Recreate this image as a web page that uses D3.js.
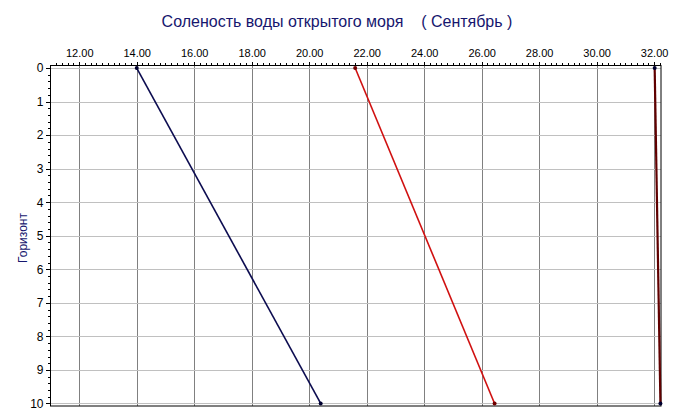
<!DOCTYPE html>
<html><head><meta charset="utf-8">
<script src="https://cdn.jsdelivr.net/npm/d3@7"></script>
<style>body{margin:0;background:#fff}svg{display:block}</style>
</head><body>
<svg id="c" width="675" height="419"></svg>
<script>
const title = "Соленость воды открытого моря    ( Сентябрь )";
const yLabel = "Горизонт";
const depths = [0, 10];
const seriesBlue = [14.0, 20.4];
const seriesRed = [21.6, 26.45];
const seriesMaroon = [32.02, 32.22];
const xTicks = [12, 14, 16, 18, 20, 22, 24, 26, 28, 30, 32];
const yTicks = [0,1,2,3,4,5,6,7,8,9,10];

const svg = d3.select("#c");
const L = 50.5, R = 661, T = 65.5, B = 406;
const x = d3.scaleLinear().domain([11.0, 32.24]).range([L, R]);
const y = d3.scaleLinear().domain([-0.075, 10.075]).range([T, B]);

svg.append("text").attr("x", 337).attr("y", 27).attr("text-anchor", "middle")
  .attr("font-family", "Liberation Sans, Arial").attr("font-size", 16).attr("fill", "#16166e")
  .attr("xml:space", "preserve").style("white-space", "pre").text(title);

const g = svg.append("g");
// vertical grid
g.selectAll(".vg").data(xTicks).join("line")
  .attr("x1", d => Math.round(x(d)) + 0.5).attr("x2", d => Math.round(x(d)) + 0.5)
  .attr("y1", T).attr("y2", B).attr("stroke", "#808080").attr("stroke-width", 1);
// horizontal grid
g.selectAll(".hg").data(yTicks).join("line")
  .attr("y1", d => Math.round(y(d)) + 0.5).attr("y2", d => Math.round(y(d)) + 0.5)
  .attr("x1", L).attr("x2", R).attr("stroke", "#c0c0c0").attr("stroke-width", 1);

// frame
svg.append("rect").attr("x", L).attr("y", T).attr("width", R - L).attr("height", B - T)
  .attr("fill", "none").attr("stroke", "#000").attr("stroke-width", 1);

// top axis
const xMinor = d3.range(11.2, 32.21, 0.2).map(v => +v.toFixed(2));
const xAxis = d3.axisTop(x).tickValues(xMinor).tickFormat("").tickSize(3).tickSizeOuter(0);
const gx = svg.append("g").attr("transform", `translate(0,${T})`).call(xAxis);
gx.select(".domain").remove();
gx.selectAll("line").attr("stroke", "#000").attr("shape-rendering", "crispEdges");
const gxl = svg.append("g").attr("transform", `translate(0,${T})`)
  .call(d3.axisTop(x).tickValues(xTicks).tickFormat(d3.format(".2f")).tickSize(4).tickPadding(5));
gxl.select(".domain").remove();
gxl.selectAll("line").attr("stroke", "#000").attr("shape-rendering", "crispEdges");
gxl.selectAll("text").attr("font-family", "Liberation Sans, Arial").attr("font-size", 11).attr("fill", "#000");

// left axis
const yMinor = d3.range(0, 10.01, 0.2).map(v => +v.toFixed(2));
const gy = svg.append("g").attr("transform", `translate(${L},0)`)
  .call(d3.axisLeft(y).tickValues(yMinor).tickFormat("").tickSize(3).tickSizeOuter(0));
gy.select(".domain").remove();
gy.selectAll("line").attr("stroke", "#000").attr("shape-rendering", "crispEdges");
const gyl = svg.append("g").attr("transform", `translate(${L},0)`)
  .call(d3.axisLeft(y).tickValues(yTicks).tickFormat(d3.format("d")).tickSize(5).tickPadding(2));
gyl.select(".domain").remove();
gyl.selectAll("line").attr("stroke", "#000").attr("shape-rendering", "crispEdges");
gyl.selectAll("text").attr("font-family", "Liberation Sans, Arial").attr("font-size", 12).attr("fill", "#000");

svg.append("text").attr("transform", "translate(27,238) rotate(-90)").attr("text-anchor", "middle")
  .attr("font-family", "Liberation Sans, Arial").attr("font-size", 12).attr("fill", "#16166e").text(yLabel);

// series
const line = d3.line().x(d => x(d[0])).y(d => y(d[1]));
const series = [
  {vals: seriesBlue, color: "#0c0c50", w: 1.6},
  {vals: seriesRed, color: "#d01010", w: 1.6},
  {vals: seriesMaroon, color: "#600000", w: 2.2}
];
series.forEach(s => {
  const pts = s.vals.map((v, i) => [v, depths[i]]);
  svg.append("path").attr("d", line(pts)).attr("fill", "none").attr("stroke", s.color).attr("stroke-width", s.w);
  svg.selectAll(null).data(pts).join("circle").attr("cx", d => x(d[0])).attr("cy", d => y(d[1]))
    .attr("r", 2).attr("fill", s.color === "#d01010" ? "#700000" : "#000030");
});
</script>
</body></html>
